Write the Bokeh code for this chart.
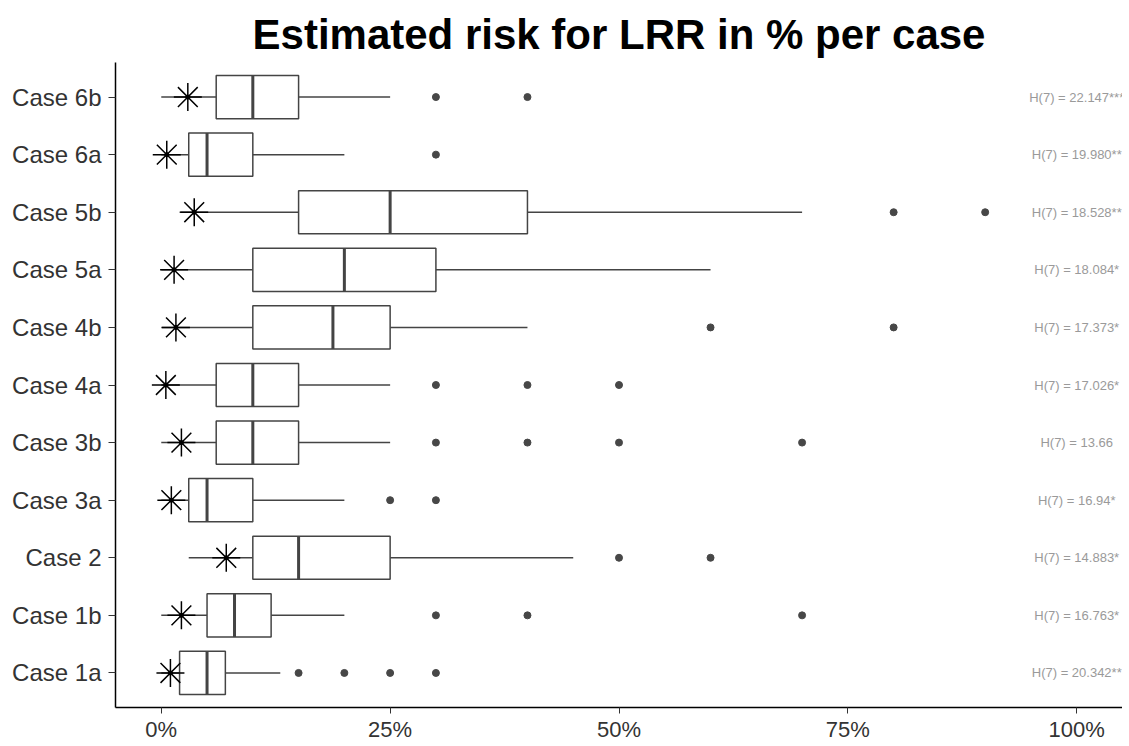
from bokeh.plotting import figure
from bokeh.models import Range1d, FixedTicker, ColumnDataSource
from bokeh.core.properties import value
from bokeh.embed import file_html
from bokeh.resources import INLINE

cases = ["Case 1a", "Case 1b", "Case 2", "Case 3a", "Case 3b", "Case 4a",
         "Case 4b", "Case 5a", "Case 5b", "Case 6a", "Case 6b"]
whisk_lo = [0, 0, 3, 0, 0, 0, 0, 0, 2, 0, 0]
q1 = [2, 5, 10, 3, 6, 6, 10, 10, 15, 3, 6]
med = [5, 8, 15, 5, 10, 10, 18.75, 20, 25, 5, 10]
q3 = [7, 12, 25, 10, 15, 15, 25, 30, 40, 10, 15]
whisk_hi = [13, 20, 45, 20, 25, 25, 40, 60, 70, 20, 25]
outliers = [
    [15, 20, 25, 30],
    [30, 40, 70],
    [50, 60],
    [25, 30],
    [30, 40, 50, 70],
    [30, 40, 50],
    [60, 80],
    [],
    [80, 90],
    [30],
    [30, 40],
]
stars = [1.0, 2.2, 7.1, 1.1, 2.2, 0.5, 1.6, 1.4, 3.6, 0.6, 2.9]
h_labels = ["H(7) = 20.342**", "H(7) = 16.763*", "H(7) = 14.883*", "H(7) = 16.94*",
            "H(7) = 13.66", "H(7) = 17.026*", "H(7) = 17.373*", "H(7) = 18.084*",
            "H(7) = 18.528**", "H(7) = 19.980**", "H(7) = 22.147***"]
x_ticks = [0, 25, 50, 75, 100]
x_tick_labels = ["0%", "25%", "50%", "75%", "100%"]
label_x = 100

ypos = list(range(1, len(cases) + 1))

p = figure(width=1122, height=744, output_backend="svg", toolbar_location=None,
           x_range=Range1d(-5, 105), y_range=Range1d(0.4, len(cases) + 0.6),
           min_border_left=115, min_border_right=0, min_border_top=62,
           min_border_bottom=36, title="Estimated risk for LRR in % per case")
p.title.text_font = "Liberation Sans"
p.title.text_font_size = "42px"
p.title.text_font_style = "bold"
p.title.text_color = "black"
p.title.align = "center"
p.outline_line_color = None
p.xgrid.visible = False
p.ygrid.visible = False
p.background_fill_color = "white"

box_col = "#444444"
src = ColumnDataSource(dict(y=ypos, lo=whisk_lo, q1=q1, med=med, q3=q3, hi=whisk_hi,
                            star=stars, lab=h_labels, lx=[label_x] * len(cases)))

p.segment(x0="lo", y0="y", x1="q1", y1="y", source=src, line_color=box_col, line_width=1.5)
p.segment(x0="q3", y0="y", x1="hi", y1="y", source=src, line_color=box_col, line_width=1.5)
p.hbar(y="y", left="q1", right="q3", height=0.75, source=src, fill_color="white",
       line_color=box_col, line_width=1.5)
med_src = ColumnDataSource(dict(x=med, y0=[y - 0.375 for y in ypos], y1=[y + 0.375 for y in ypos]))
p.segment(x0="x", y0="y0", x1="x", y1="y1", source=med_src, line_color=box_col, line_width=3)

ox, oy = [], []
for y, vals in zip(ypos, outliers):
    for v in vals:
        ox.append(v)
        oy.append(y)
p.scatter(ox, oy, marker="circle", size=7, fill_color="#474747", line_color="#474747")

p.scatter(x="star", y="y", source=src, marker="asterisk", size=28, line_color="black",
          line_width=1.5)
p.scatter(x="star", y="y", source=src, marker="circle", size=4, fill_color="black",
          line_color="black")

p.text(x="lx", y="y", text="lab", source=src, text_align="center", text_baseline="middle",
       text_font=value("Liberation Sans"), text_font_size="13px", text_color="#9a9a9a")

p.xaxis.ticker = FixedTicker(ticks=x_ticks)
p.xaxis.major_label_overrides = {t: l for t, l in zip(x_ticks, x_tick_labels)}
p.yaxis.ticker = FixedTicker(ticks=ypos)
p.yaxis.major_label_overrides = {y: c for y, c in zip(ypos, cases)}
for ax in (p.xaxis, p.yaxis):
    ax.axis_line_color = "black"
    ax.axis_line_width = 1.5
    ax.major_tick_line_color = "#333333"
    ax.major_tick_in = 0
    ax.minor_tick_line_color = None
    ax.major_label_text_font = "Liberation Sans"
    ax.major_label_text_color = "#333333"
p.xaxis.major_tick_out = 6
p.yaxis.major_tick_out = 7
p.yaxis.major_label_text_font_size = "24px"
p.xaxis.major_label_text_font_size = "22px"
p.xaxis.major_label_standoff = 3
p.yaxis.major_label_standoff = 7

open("out.html", "w").write(file_html(p, INLINE))
